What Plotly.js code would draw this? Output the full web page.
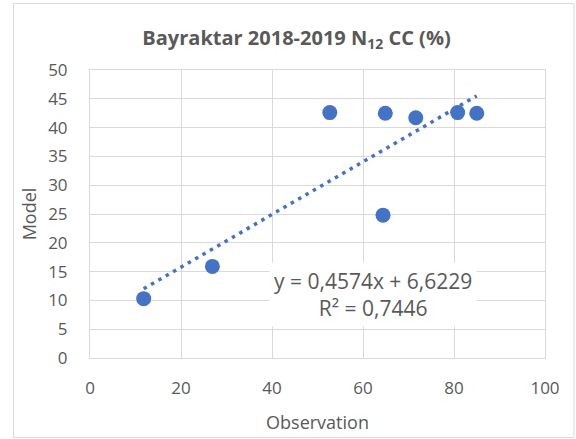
<!DOCTYPE html>
<html>
<head>
<meta charset="utf-8">
<script src="https://cdn.plot.ly/plotly-3.0.1.min.js"></script>
<style>html,body{margin:0;padding:0;background:#fff;}#chart{width:576px;height:439px;}</style>
</head>
<body>
<div id="chart"></div>
<script>
// Data
const observation = [11.8, 26.9, 52.7, 64.9, 71.6, 64.4, 80.8, 85.0];
const model = [10.3, 15.9, 42.6, 42.5, 41.7, 24.8, 42.6, 42.5];
// Trendline coefficients as printed on the chart
const slope = 0.4574;
const intercept = 6.6229;
const r2Text = "0,7446";
const xTicks = [0, 20, 40, 60, 80, 100];
const yTicks = [0, 5, 10, 15, 20, 25, 30, 35, 40, 45, 50];

const xMin = Math.min(...observation);
const xMax = Math.max(...observation);
const trendX = [xMin, xMax];
const trendY = trendX.map(v => slope * v + intercept);

const fontFam = "Open Sans, sans-serif";
const grey = "#595959";
const gridC = "#d9d9d9";

const traces = [
  {
    x: trendX, y: trendY, type: "scatter", mode: "lines",
    line: {color: "#4472C4", width: 3.5, dash: "3.5px,5px"},
    hoverinfo: "skip", showlegend: false
  },
  {
    x: observation, y: model, type: "scatter", mode: "markers",
    marker: {color: "#4472C4", size: 15},
    showlegend: false
  }
];

const fmt = v => v.toFixed(4).replace(".", ",");

const layout = {
  width: 576, height: 439,
  margin: {l: 90, r: 31, t: 70, b: 81},
  paper_bgcolor: "#fff", plot_bgcolor: "#fff",
  font: {family: fontFam, color: grey},
  title: {
    text: "Bayraktar 2018-2019 N<sub>12</sub> CC (%)",
    font: {family: fontFam, size: 20, color: grey, weight: "bold"},
    xref: "container", yref: "container",
    x: 296.5 / 576, y: 1 - 38 / 439, xanchor: "center", yanchor: "middle"
  },
  xaxis: {
    range: [0, 100], tickvals: xTicks, ticktext: xTicks.map(String),
    showgrid: true, gridcolor: gridC, gridwidth: 1,
    showline: true, linecolor: gridC, linewidth: 1, mirror: true,
    zeroline: false, ticks: "", ticklabelstandoff: 15,
    tickfont: {family: fontFam, size: 17, color: grey},
    title: {text: "Observation", font: {family: fontFam, size: 18, color: grey}, standoff: 17}
  },
  yaxis: {
    range: [0, 50], tickvals: yTicks, ticktext: yTicks.map(String),
    showgrid: true, gridcolor: gridC, gridwidth: 1,
    showline: true, linecolor: gridC, linewidth: 1, mirror: true,
    zeroline: false, ticks: "", ticklabelstandoff: 18,
    tickfont: {family: fontFam, size: 17, color: grey},
    title: {text: "Model", font: {family: fontFam, size: 18, color: grey}, standoff: 6}
  },
  annotations: [{
    xref: "x", yref: "y", x: 62.2, y: 11.06,
    xanchor: "center", yanchor: "middle", showarrow: false,
    text: "y = " + fmt(slope) + "x + " + fmt(intercept) + "<br>R² = " + r2Text,
    font: {family: fontFam, size: 21, color: grey},
    bgcolor: "#ffffff", borderpad: 4, align: "center"
  }],
  shapes: [{
    type: "rect", xref: "paper", yref: "paper",
    x0: (13.5 - 90) / 455, x1: (574 - 90) / 455,
    y0: (358 - 437.5) / 288, y1: (358 - 3.5) / 288,
    line: {color: gridC, width: 1}, fillcolor: "rgba(0,0,0,0)", layer: "below"
  }]
};

Plotly.newPlot("chart", traces, layout, {displayModeBar: false, staticPlot: true});
</script>
</body>
</html>
